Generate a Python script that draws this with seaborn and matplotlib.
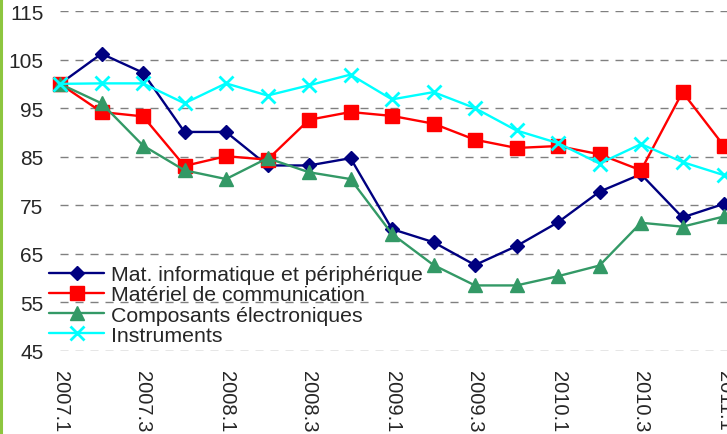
import pandas as pd
import matplotlib.pyplot as plt
import seaborn as sns
from matplotlib.lines import Line2D

# quarterly index values (base 100 = 2007.1)
quarters = ['2007.1', '2007.2', '2007.3', '2007.4',
            '2008.1', '2008.2', '2008.3', '2008.4',
            '2009.1', '2009.2', '2009.3', '2009.4',
            '2010.1', '2010.2', '2010.3', '2010.4',
            '2011.1']

mat_info = [100, 106.2, 102.3, 90.1, 90.1, 83.2, 83.2, 84.7, 70.1,
            67.4, 62.7, 66.6, 71.5, 77.8, 81.4, 72.5, 75.3]
mat_comm = [100, 94.2, 93.3, 83.1, 85.1, 84.4, 92.6, 94.2, 93.4,
            91.8, 88.5, 86.8, 87.2, 85.5, 82.2, 98.3, 87.2]
composants = [100, 96.0, 87.3, 82.2, 80.4, 84.7, 81.8, 80.4, 69.1,
              62.7, 58.5, 58.5, 60.4, 62.6, 71.4, 70.6, 72.7]
instruments = [100, 100.1, 100.1, 96.0, 100.1, 97.6, 99.7, 101.9, 96.8,
               98.3, 95.0, 90.4, 87.8, 83.6, 87.6, 83.9, 81.2]

series_names = ['Mat. informatique et périphérique',
                'Matériel de communication',
                'Composants électroniques',
                'Instruments']
y_ticks = [45, 55, 65, 75, 85, 95, 105, 115]

rows = []
for name, vals in zip(series_names, [mat_info, mat_comm, composants, instruments]):
    for i, v in enumerate(vals):
        rows.append({'pos': i, 'quarter': quarters[i], 'serie': name, 'value': v})
df = pd.DataFrame(rows)

styles = {
    'Mat. informatique et périphérique': dict(color='#000080', marker='D', ms=7.5, mew=1),
    'Matériel de communication': dict(color='#FF0000', marker='s', ms=9.5, mew=1),
    'Composants électroniques': dict(color='#339966', marker='^', ms=10, mew=1),
    'Instruments': dict(color='#00FFFF', marker='x', ms=9.5, mew=2),
}

sns.set_style('white')
plt.rcParams['font.family'] = ['Liberation Sans', 'DejaVu Sans']
plt.rcParams['lines.scale_dashes'] = False

fig = plt.figure(figsize=(7.27, 4.35), dpi=100)
ax = fig.add_axes([60 / 727, 1 - 352 / 435, 705.5 / 727, 340 / 435])

for name in series_names:
    st = styles[name]
    sns.lineplot(data=df[df['serie'] == name], x='pos', y='value', ax=ax,
                 color=st['color'], marker=st['marker'], markersize=st['ms'],
                 markeredgecolor=st['color'], markerfacecolor=st['color'],
                 markeredgewidth=st['mew'], linewidth=1.7, label=name,
                 clip_on=False)

ax.set_xlim(0, 17)
ax.set_ylim(45, 115)
ax.set_yticks(y_ticks)
ax.set_yticklabels([str(t) for t in y_ticks], fontsize=15)
ax.tick_params(axis='y', length=0, pad=12)
for t in y_ticks:
    ax.axhline(t, color='#808080', lw=1, ls=(0, (5.8, 5)), zorder=0)

ax.set_xticks(range(0, len(quarters), 2))
ax.set_xticklabels(quarters[::2], rotation=-90, fontsize=14.5, va='top', ha='center')
ax.set_xticks(range(len(quarters)), minor=True)
ax.tick_params(axis='x', which='both', length=3, color='#808080', direction='out', pad=11)
ax.set_xlabel('')
ax.set_ylabel('')
for s in ax.spines.values():
    s.set_visible(False)

handles = [Line2D([], [], color=styles[n]['color'], marker=styles[n]['marker'],
                  markersize=styles[n]['ms'], markeredgewidth=styles[n]['mew'],
                  markeredgecolor=styles[n]['color'], lw=1.7) for n in series_names]
ax.legend(handles, series_names, loc='upper left', frameon=False, fontsize=15.3,
          bbox_to_anchor=(49 / 727, 1 - 266 / 435), bbox_transform=fig.transFigure,
          borderpad=0, borderaxespad=0, labelspacing=0.06, handlelength=2.6,
          handletextpad=0.3)

# green border at the left edge of the picture
fig.add_artist(Line2D([1.5 / 727, 1.5 / 727], [0, 1], transform=fig.transFigure,
                      color='#8DC63F', lw=2.2))

fig.savefig('out.png', dpi=100)
